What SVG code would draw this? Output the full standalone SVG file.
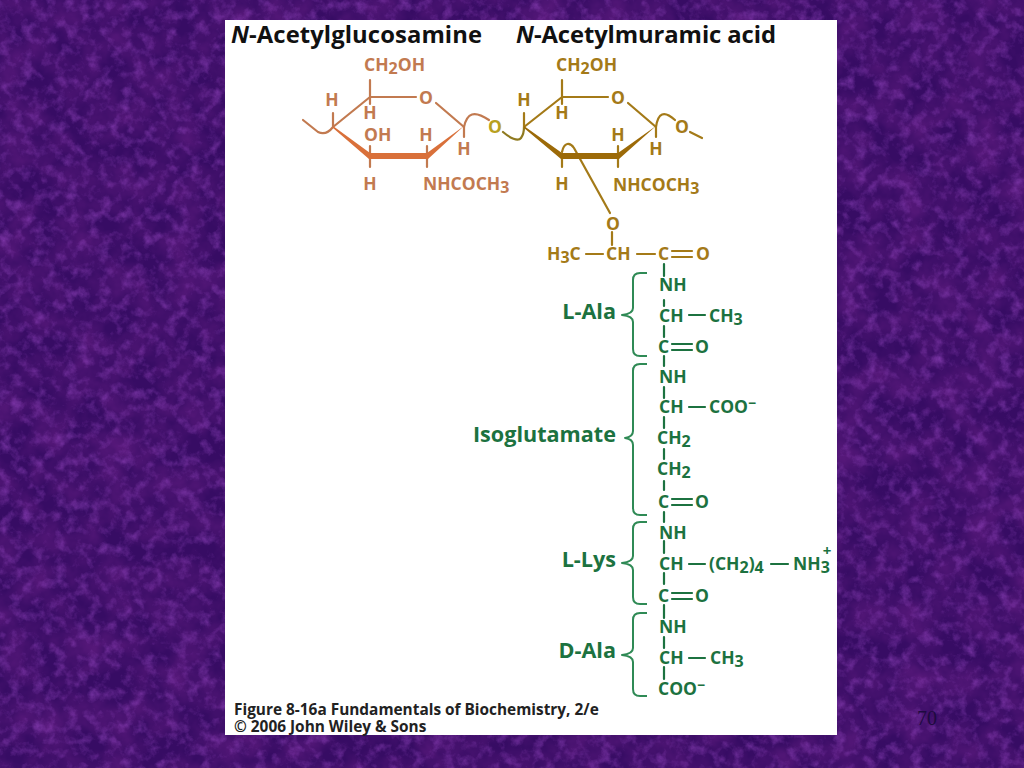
<svg xmlns="http://www.w3.org/2000/svg" width="1024" height="768" viewBox="0 0 1024 768">
<style>
text{font-family:"Open Sans","Liberation Sans",sans-serif;font-weight:700}
.t{font-size:17.5px}
.nag{fill:#c27a50}.nam{fill:#a47a18}.g{fill:#1c7240}
.h{font-size:23.8px;fill:#111}
.lab{font-size:21.6px;fill:#1c7240;text-anchor:end}
.f{font-size:15.4px;fill:#222}
.l{fill:none;stroke-width:2.2;stroke-linecap:round;stroke-linejoin:round}
.lnag{stroke:#c27a50}.lnam{stroke:#a47a18}.lg{stroke:#1c7240}
.br{fill:none;stroke:#2f8a55;stroke-width:2;stroke-linejoin:round}
</style>
<defs>
<filter id="tex" x="0" y="0" width="100%" height="100%">
<feTurbulence type="fractalNoise" baseFrequency="0.03" numOctaves="4" seed="7"/>
<feColorMatrix type="matrix" values="0 0 0 0 0.10  0 0 0 0 0.01  0 0 0 0 0.20  1.6 0 0 0 -0.5"/>
</filter>
<filter id="tex2" x="0" y="0" width="100%" height="100%">
<feTurbulence type="fractalNoise" baseFrequency="0.09" numOctaves="4" seed="21"/>
<feColorMatrix type="matrix" values="0 0 0 0 0.29  0 0 0 0 0.06  0 0 0 0 0.52  1.3 0 0 0 -0.6"/>
</filter>
</defs>
<g id="background">
<rect width="1024" height="768" fill="#370c64"/>
<rect width="1024" height="768" filter="url(#tex)"/>
<rect width="1024" height="768" filter="url(#tex2)"/>
<rect x="225" y="20" width="612" height="715" fill="#fff"/>
</g>
<g id="connectors">
<path class="l lnag" d="M303 120L318 132Q326 136 333 127L370 97H416M436 103L464 127M333 127V113M370 97V80M370 97V104M464 127V137M370 156V167M370 156V146M427 156V167M427 156V146"/>
<path class="l lnag" d="M464 127C467 113 474 110 489 120"/>
<path class="l" stroke="#8f7a20" d="M503 132C510 138 518 142 521 138Q524 134 524 127"/>
<polygon fill="#d9703a" points="333,126 370,153 427,153 464,126 428,159 369,159 333,128"/>
<path class="l lnam" d="M524 127L562 97H608M628 103L656 127M524 127V113M562 97V80M562 97V104M656 127V137M562 156V167M618 156V167M618 156V146"/>
<path class="l lnam" d="M656 127C658 113 664 110 675 120M690 132L702 138M562 152C564 142 570 142 574 148L610 213M612 232V245M586 254H603M637 254H655"/>
<path class="l lnam" d="M672 251H692M672 257H692"/>
<polygon fill="#9c6a08" points="524,126 562,153 618,153 656,126 619,159 561,159 524,128"/>
<path class="l lg" d="M664 264V276M664 300V306M664 326V337M664 356V366M664 387V398M664 417V428M664 449V459M664 481V490M664 512V522M664 541V553M664 573V584M664 605V618M664 637V648M664 667V679"/>
<path class="l lg" d="M689 315H705M689 407H705M689 564H705M771 564H788M689 658H705M672 344H692M672 350H692M672 499H692M672 505H692M672 593H692M672 599H692"/>
<path class="br" d="M647 273H640Q633 273 633 280V308Q633 314 622 315Q633 316 633 322V349Q633 356 640 356H647"/>
<path class="br" d="M647 364H640Q633 364 633 371V431Q633 437 625 438Q633 439 633 445V508Q633 515 640 515H647"/>
<path class="br" d="M647 522H640Q633 522 633 529V556Q633 562 622 563Q633 564 633 570V597Q633 604 640 604H647"/>
<path class="br" d="M647 613H640Q633 613 633 620V648Q633 654 622 655Q633 656 633 662V689Q633 696 640 696H647"/>
</g>
<g id="titles">
<text class="h" x="231" y="43" textLength="251"><tspan font-style="italic">N</tspan>-Acetylglucosamine</text>
<text class="h" x="516" y="43" textLength="260"><tspan font-style="italic">N</tspan>-Acetylmuramic acid</text>
</g>
<g id="n-acetylglucosamine">
<text class="t nag" x="364" y="71">CH<tspan dy="3" font-size="16">2</tspan><tspan dy="-3">OH</tspan></text>
<text class="t nag" x="426" y="104" text-anchor="middle">O</text>
<text class="t nag" x="332" y="106" text-anchor="middle">H</text>
<text class="t nag" x="370" y="119" text-anchor="middle">H</text>
<text class="t nag" x="364" y="141">OH</text>
<text class="t nag" x="426" y="141" text-anchor="middle">H</text>
<text class="t nag" x="464" y="155" text-anchor="middle">H</text>
<text class="t nag" x="370" y="190" text-anchor="middle">H</text>
<text class="t nag" x="423" y="190">NHCOCH<tspan dy="3" font-size="16">3</tspan></text>
</g>
<text id="glycosidic-o" class="t" fill="#b8a11f" x="495" y="133" text-anchor="middle">O</text>
<g id="n-acetylmuramic-acid">
<text class="t nam" x="556" y="71">CH<tspan dy="3" font-size="16">2</tspan><tspan dy="-3">OH</tspan></text>
<text class="t nam" x="618" y="104" text-anchor="middle">O</text>
<text class="t nam" x="524" y="106" text-anchor="middle">H</text>
<text class="t nam" x="562" y="119" text-anchor="middle">H</text>
<text class="t nam" x="618" y="141" text-anchor="middle">H</text>
<text class="t nam" x="656" y="155" text-anchor="middle">H</text>
<text class="t nam" x="562" y="190" text-anchor="middle">H</text>
<text class="t nam" x="613" y="191">NHCOCH<tspan dy="3" font-size="16">3</tspan></text>
<text class="t nam" x="682" y="133" text-anchor="middle">O</text>
<text class="t nam" x="613" y="230" text-anchor="middle">O</text>
<text class="t nam" x="547" y="260">H<tspan dy="3" font-size="16">3</tspan><tspan dy="-3">C</tspan></text>
<text class="t nam" x="606" y="260">CH</text>
<text class="t nam" x="658" y="260">C</text>
<text class="t nam" x="696" y="260">O</text>
</g>
<g id="l-ala">
<text class="lab" x="616" y="319">L-Ala</text>
<text class="t g" x="659" y="291">NH</text>
<text class="t g" x="659" y="322">CH</text>
<text class="t g" x="709" y="322">CH<tspan dy="3" font-size="16">3</tspan></text>
<text class="t g" x="658" y="353">C</text>
<text class="t g" x="695" y="353">O</text>
</g>
<g id="isoglutamate">
<text class="lab" x="616" y="442">Isoglutamate</text>
<text class="t g" x="659" y="383">NH</text>
<text class="t g" x="659" y="413">CH</text>
<text class="t g" x="709" y="413">COO<tspan dy="-5" font-size="14">−</tspan></text>
<text class="t g" x="657" y="444">CH<tspan dy="3" font-size="16">2</tspan></text>
<text class="t g" x="657" y="475">CH<tspan dy="3" font-size="16">2</tspan></text>
<text class="t g" x="658" y="508">C</text>
<text class="t g" x="695" y="508">O</text>
</g>
<g id="l-lys">
<text class="lab" x="616" y="567">L-Lys</text>
<text class="t g" x="659" y="539">NH</text>
<text class="t g" x="659" y="570">CH</text>
<text class="t g" x="709" y="570">(CH<tspan dy="3" font-size="16">2</tspan><tspan dy="-3">)</tspan><tspan dy="3" font-size="16">4</tspan></text>
<text class="t g" x="793" y="570">NH<tspan dy="3" font-size="16">3</tspan></text>
<text class="g" x="827" y="556" text-anchor="middle" style="font-size:15px">+</text>
<text class="t g" x="658" y="602">C</text>
<text class="t g" x="695" y="602">O</text>
</g>
<g id="d-ala">
<text class="lab" x="616" y="658">D-Ala</text>
<text class="t g" x="659" y="633">NH</text>
<text class="t g" x="659" y="664">CH</text>
<text class="t g" x="710" y="664">CH<tspan dy="3" font-size="16">3</tspan></text>
<text class="t g" x="658" y="695">COO<tspan dy="-5" font-size="14">−</tspan></text>
</g>
<g id="caption">
<text class="f" x="234" y="714.5">Figure 8-16a  Fundamentals of Biochemistry, 2/e</text>
<text class="f" x="234" y="732">© 2006 John Wiley &amp; Sons</text>
</g>
<text id="slide-number" x="917" y="725" style="font-family:'Liberation Serif',serif;font-weight:400;font-size:20px" fill="#1e0a40">70</text>
</svg>
